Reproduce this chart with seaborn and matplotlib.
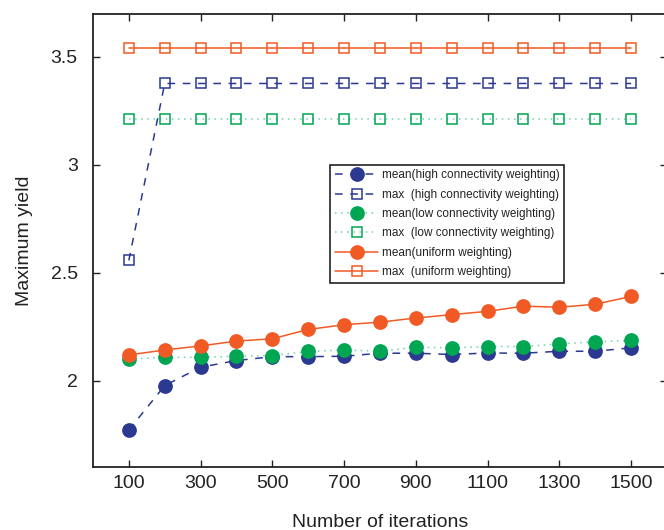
import matplotlib
matplotlib.use("Agg")
import matplotlib.pyplot as plt
from matplotlib import font_manager
import seaborn as sns
import pandas as pd

iterations = [100, 200, 300, 400, 500, 600, 700, 800, 900, 1000, 1100, 1200, 1300, 1400, 1500]
mean_high = [1.771, 1.977, 2.062, 2.093, 2.111, 2.111, 2.113, 2.127, 2.127, 2.121, 2.128, 2.127, 2.136, 2.136, 2.152]
max_high = [2.557, 3.377, 3.377, 3.377, 3.377, 3.377, 3.377, 3.377, 3.377, 3.377, 3.377, 3.377, 3.377, 3.377, 3.377]
mean_low = [2.100, 2.108, 2.108, 2.113, 2.116, 2.135, 2.142, 2.136, 2.155, 2.152, 2.158, 2.158, 2.170, 2.180, 2.186]
max_low = [3.212] * 15
mean_uni = [2.119, 2.142, 2.161, 2.183, 2.194, 2.237, 2.259, 2.271, 2.290, 2.306, 2.321, 2.345, 2.340, 2.354, 2.390]
max_uni = [3.540] * 15
labels = ["mean(high connectivity weighting)", "max  (high connectivity weighting)",
          "mean(low connectivity weighting)", "max  (low connectivity weighting)",
          "mean(uniform weighting)", "max  (uniform weighting)"]
xticks = [100, 300, 500, 700, 900, 1100, 1300, 1500]
yticks = [2, 2.5, 3, 3.5]

sns.set_style("ticks")
plt.rcParams["font.family"] = ["Liberation Sans", "DejaVu Sans"]
plt.rcParams["xtick.direction"] = "in"
plt.rcParams["ytick.direction"] = "in"

names = {f.name for f in font_manager.fontManager.ttflist}
if "Liberation Sans Narrow" in names:
    leg_family, leg_size, leg_spacing = "Liberation Sans Narrow", 10.0, 0.34
else:
    leg_family, leg_size, leg_spacing = "Liberation Sans", 8.5, 0.62

blue = "#2B3990"
green = "#00A651"
green_line = "#6FD3A8"
orange = "#F15A24"
text_col = "#222222"

fig = plt.figure(figsize=(6.64, 5.30), dpi=100)
ax = fig.add_axes([0.140, 0.119, 0.8645, 0.855])

series = [
    (mean_high, blue, blue, (0, (5, 5)), "o", 9.5, blue),
    (max_high, blue, blue, (0, (5, 5)), "s", 6.5, "none"),
    (mean_low, green, green_line, (0, (1, 3)), "o", 9.5, green),
    (max_low, green, green_line, (0, (1, 3)), "s", 6.5, "none"),
    (mean_uni, orange, orange, "-", "o", 9.5, orange),
    (max_uni, orange, orange, "-", "s", 6.5, "none"),
]
for (vals, mcol, lcol, ls, mk, ms, mfc), lab in zip(series, labels):
    df = pd.DataFrame({"iterations": iterations, "yield": vals})
    sns.lineplot(data=df, x="iterations", y="yield", ax=ax, color=lcol,
                 linestyle=ls, linewidth=1.1, marker=mk, markersize=ms,
                 markerfacecolor=mfc, markeredgecolor=mcol, markeredgewidth=1.1,
                 label=lab)

ax.set_xlim(0, 1600)
ax.set_ylim(1.6, 3.7)
ax.set_xticks(xticks)
ax.set_yticks(yticks)
ax.set_yticklabels(["2", "2.5", "3", "3.5"])
ax.tick_params(axis="both", labelsize=14, length=5, width=1, color=text_col,
               labelcolor=text_col, top=True, right=True)
ax.tick_params(axis="x", pad=6)
ax.tick_params(axis="y", pad=11)
for sp in ax.spines.values():
    sp.set_linewidth(1.3)
    sp.set_color(text_col)
    sp.set_visible(True)
ax.set_xlabel("Number of iterations", fontsize=14, color=text_col, labelpad=16)
ax.set_ylabel("Maximum yield", fontsize=14, color=text_col, labelpad=13)

leg = ax.legend(loc="upper left", bbox_to_anchor=(0.413, 0.667),
                prop={"family": leg_family, "size": leg_size},
                frameon=True, fancybox=False, framealpha=1, edgecolor=text_col,
                handlelength=3.7, handletextpad=0.3, borderpad=0.4,
                labelspacing=leg_spacing, borderaxespad=0)
leg.get_frame().set_linewidth(1.2)
for t in leg.get_texts():
    t.set_color(text_col)

fig.savefig("out.png", dpi=100)
